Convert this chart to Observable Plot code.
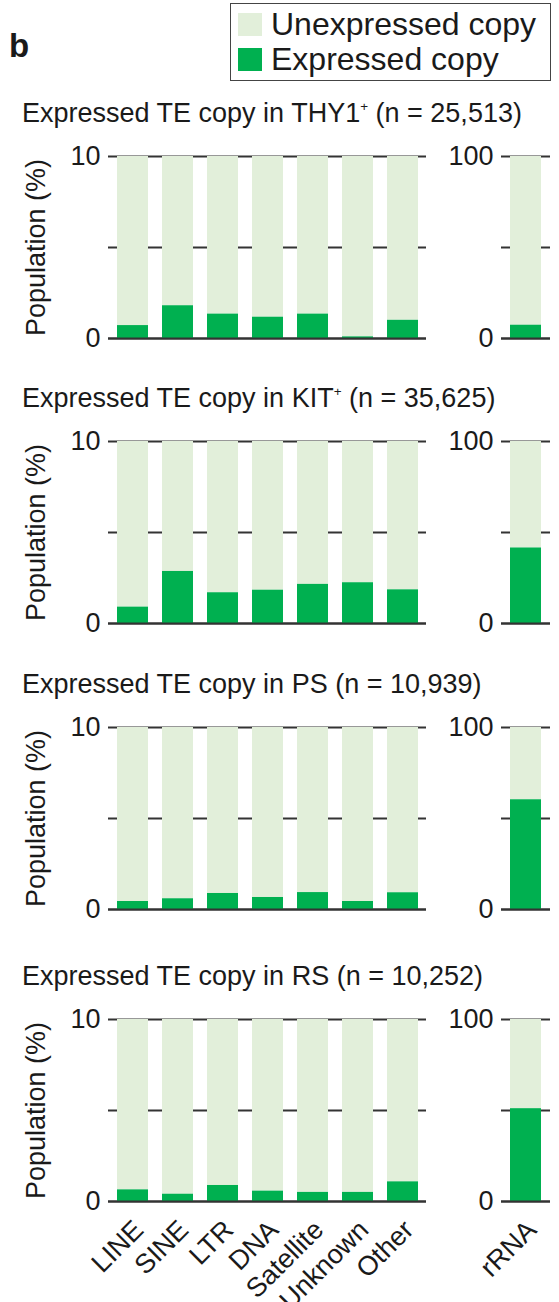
<!DOCTYPE html>
<html>
<head>
<meta charset="utf-8">
<script src="https://cdn.jsdelivr.net/npm/d3@7"></script>
<script src="https://cdn.jsdelivr.net/npm/@observablehq/plot@0.6"></script>
<style>
  html, body { margin: 0; padding: 0; background: #fff; }
  #root { position: relative; width: 559px; height: 1302px; overflow: hidden; background: #fff;
          font-family: "Liberation Sans", Arial, Helvetica, sans-serif; color: #1a1a1a; }
  .abs { position: absolute; }
  .title { font-size: 27px; line-height: 27px; white-space: nowrap; }
  .title sup { font-size: 0.5em; vertical-align: 0; position: relative; top: -0.85em; }
  #legend { border: 1.5px solid #444; padding: 3px 14px 3px 7px; }
  .lrow { display: flex; align-items: center; font-size: 32px; line-height: 35px; white-space: nowrap; }
  .sw { width: 24px; height: 23px; margin-right: 9px; }
</style>
</head>
<body>
<div id="root"></div>
<script>
// ---- data ----
const categories = ["LINE", "SINE", "LTR", "DNA", "Satellite", "Unknown", "Other"];
const rrnaCategory = ["rRNA"];
const thy1 = [0.71, 1.80, 1.34, 1.17, 1.34, 0.09, 1.00];
const kit  = [0.90, 2.86, 1.69, 1.83, 2.15, 2.24, 1.85];
const ps   = [0.44, 0.59, 0.88, 0.66, 0.93, 0.44, 0.92];
const rs   = [0.64, 0.40, 0.88, 0.57, 0.50, 0.50, 1.08];
const rRNA = [7.3, 41.5, 60.3, 51.0];
const titles = [
  'Expressed TE copy in THY1<sup>+</sup> (n = 25,513)',
  'Expressed TE copy in KIT<sup>+</sup> (n = 35,625)',
  'Expressed TE copy in PS (n = 10,939)',
  'Expressed TE copy in RS (n = 10,252)'
];
const yLabel = "Population (%)";
const leftTicks = [0, 10];
const leftRules = [0, 5, 10];
const rightTicks = [0, 100];
const rightRules = [0, 50, 100];
const legendLabels = ["Unexpressed copy", "Expressed copy"];

const lightGreen = "#e2efda";
const darkGreen = "#00b050";
const ruleColor = "#333333";

const root = document.getElementById("root");
const panelTops = [156, 441, 727, 1019];
const frameH = 182;
const mTop = 16;
const font = "'Liberation Sans', Arial, Helvetica, sans-serif";

// "b" label
const b = document.createElement("div");
b.className = "abs";
b.style.cssText = "left:9px;top:29px;font-size:33px;font-weight:bold;line-height:33px;";
b.textContent = "b";
root.appendChild(b);

// legend
const legend = document.createElement("div");
legend.id = "legend";
legend.className = "abs";
legend.style.left = "230px";
legend.style.top = "3px";
[lightGreen, darkGreen].forEach((c, i) => {
  const row = document.createElement("div");
  row.className = "lrow";
  const sw = document.createElement("div");
  sw.className = "sw";
  sw.style.background = c;
  const t = document.createElement("span");
  t.textContent = legendLabels[i];
  row.appendChild(sw); row.appendChild(t);
  legend.appendChild(row);
});
root.appendChild(legend);

function labelMarks(cats) {
  return Plot.text(cats, {x: d => d, y: 0, text: d => d, rotate: -45,
    textAnchor: "end", lineAnchor: "bottom", dx: 12, dy: 30, fontSize: 27, fill: "#1a1a1a"});
}

function leftPlot(values, last) {
  const data = categories.map((c, i) => ({cat: c, v: values[i]}));
  const mb = last ? 140 : 12;
  const marks = [
    Plot.ruleY(leftRules, {stroke: ruleColor, strokeWidth: 2}),
    Plot.barY(data, {x: "cat", y1: "v", y2: leftRules[2], fill: lightGreen}),
    Plot.barY(data, {x: "cat", y1: 0, y2: "v", fill: darkGreen}),
    Plot.ruleY([0], {stroke: ruleColor, strokeWidth: 2}),
    Plot.text([yLabel], {x: null, y: null, frameAnchor: "left", text: d => d, rotate: -90, dx: -72,
      textAnchor: "middle", lineAnchor: "middle", fontSize: 27, fill: "#1a1a1a"})
  ];
  if (last) marks.push(labelMarks(categories));
  return Plot.plot({
    width: 430, height: mTop + frameH + mb,
    marginTop: mTop, marginLeft: 108, marginRight: 4, marginBottom: mb,
    style: {fontSize: "27px", fontFamily: font, color: "#1a1a1a", background: "transparent", overflow: "visible"},
    x: {domain: categories, paddingInner: 0.32, paddingOuter: 0.16, axis: null},
    y: {domain: [0, 10], ticks: leftTicks, tickSize: 0, tickPadding: 8, label: null},
    marks
  });
}

function rightPlot(value, last) {
  const data = rrnaCategory.map(c => ({cat: c, v: value}));
  const mb = last ? 140 : 12;
  const marks = [
    Plot.ruleY(rightRules, {stroke: ruleColor, strokeWidth: 2}),
    Plot.barY(data, {x: "cat", y1: "v", y2: rightRules[2], fill: lightGreen}),
    Plot.barY(data, {x: "cat", y1: 0, y2: "v", fill: darkGreen}),
    Plot.ruleY([0], {stroke: ruleColor, strokeWidth: 2})
  ];
  if (last) marks.push(labelMarks(rrnaCategory));
  return Plot.plot({
    width: 119, height: mTop + frameH + mb,
    marginTop: mTop, marginLeft: 61, marginRight: 9, marginBottom: mb,
    style: {fontSize: "27px", fontFamily: font, color: "#1a1a1a", background: "transparent", overflow: "visible"},
    x: {domain: rrnaCategory, paddingInner: 0.32, paddingOuter: 0.2, axis: null},
    y: {domain: [0, 100], ticks: rightTicks, tickSize: 0, tickPadding: 8, label: null},
    marks
  });
}

const series = [thy1, kit, ps, rs];
series.forEach((vals, i) => {
  const last = i === series.length - 1;
  const t = document.createElement("div");
  t.className = "abs title";
  t.style.left = "22px";
  t.style.top = (panelTops[i] - 27 - 29) + "px";
  t.innerHTML = titles[i];
  root.appendChild(t);

  const L = leftPlot(vals, last);
  L.style.position = "absolute";
  L.style.left = "0px";
  L.style.top = (panelTops[i] - mTop) + "px";
  root.appendChild(L);

  const R = rightPlot(rRNA[i], last);
  R.style.position = "absolute";
  R.style.left = "440px";
  R.style.top = (panelTops[i] - mTop) + "px";
  root.appendChild(R);
});
</script>
</body>
</html>
